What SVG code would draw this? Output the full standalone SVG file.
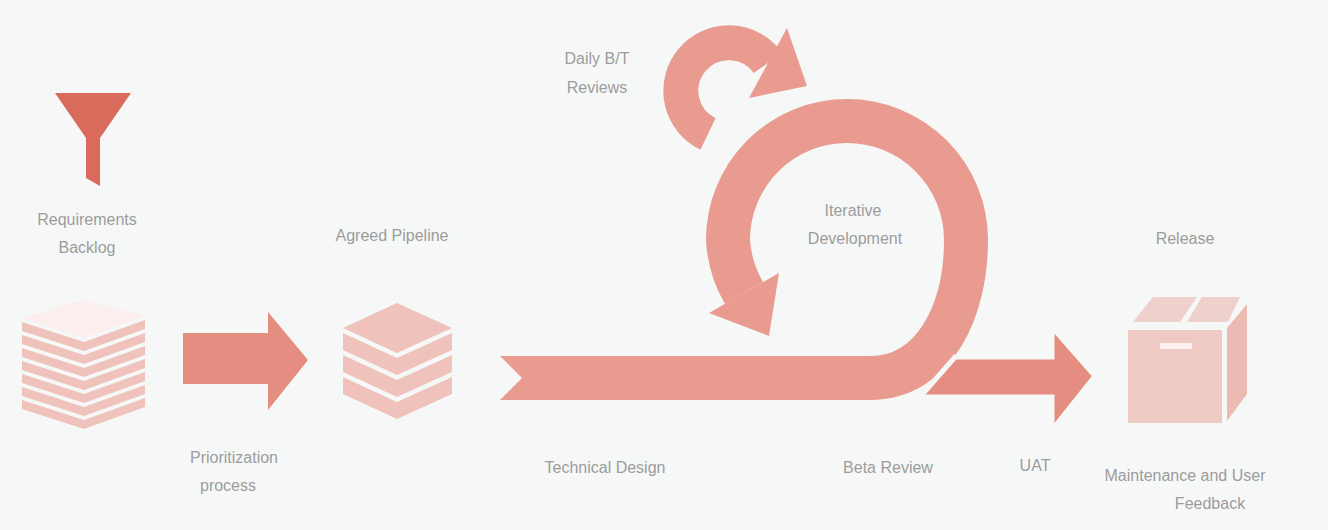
<svg xmlns="http://www.w3.org/2000/svg" width="1328" height="530" viewBox="0 0 1328 530">
<defs>
<style>
text{font-family:"Liberation Sans",Arial,sans-serif;font-size:16px;fill:#9c9c9c;text-anchor:middle}
.rib{fill:none;stroke:#e99b90;stroke-width:44}
.arr{fill:#e48d80}
.stk{fill:#efc3bc}
.top{fill:#fbeeec}
</style>
</defs>
<rect width="1328" height="530" fill="#f6f8f7"/>
<g id="funnel"><path d="M55,93 H131 L100,138 V186 L86,178 V138 Z" fill="#d96a5c"/></g>
<g id="backlog">
<polygon class="top" points="22,318 82,300 145,316 84,338"/>
<polygon class="stk" points="22,322 84,342 145,320 145,329 84,351 22,331"/>
<polygon class="stk" points="22,335 84,355 145,333 145,342 84,364 22,344"/>
<polygon class="stk" points="22,348 84,368 145,346 145,355 84,377 22,357"/>
<polygon class="stk" points="22,361 84,381 145,359 145,368 84,390 22,370"/>
<polygon class="stk" points="22,374 84,394 145,372 145,381 84,403 22,383"/>
<polygon class="stk" points="22,387 84,407 145,385 145,394 84,416 22,396"/>
<polygon class="stk" points="22,400 84,420 145,398 145,407 84,429 22,409"/>
<text x="87" y="225">Requirements</text><text x="87" y="253">Backlog</text>
</g>
<g id="pipeline">
<polygon class="stk" points="343,328 397,303 452,328 397,353"/>
<polygon class="stk" points="343,333 397,358 452,333 452,350 397,375 343,350"/>
<polygon class="stk" points="343,355 397,380 452,355 452,372 397,397 343,372"/>
<polygon class="stk" points="343,377 397,402 452,377 452,394 397,419 343,394"/>
<text x="392" y="241">Agreed Pipeline</text>
</g>
<g id="connectors">
<path class="rib" d="M500,378 H870 C935,378 966,310 966,240 A119,119 0 0 0 728,240 A119,119 0 0 0 744,293"/>
<polygon fill="#e99b90" points="709,313 779,273 769,336"/>
<polygon fill="#f6f8f7" points="498,354 522,378 498,402"/>
<path fill="none" stroke="#f6f8f7" stroke-width="49" d="M708,134 A48,48 0 1 1 768,63"/>
<path class="rib" style="stroke-width:35" d="M708,134 A48,48 0 1 1 768,63"/>
<polygon fill="#e99b90" points="787,28 749,98 807,86"/>
<polygon class="arr" points="183,333 268,333 268,312 308,360 268,410 268,384 183,384"/>
<polygon class="arr" stroke="#f6f8f7" stroke-width="5" points="955,357 1052,357 1052,327 1095,376 1052,430 1052,397 920,397"/>
</g>
<g id="release">
<polygon fill="#efc9c4" points="1128,330 1222,330 1222,423 1128,423"/>
<polygon fill="#ebbab3" points="1227,328 1247,304 1247,394 1227,421"/>
<polygon fill="#eed0cc" points="1133,322 1153,297 1197,297 1180,322"/>
<polygon fill="#eed0cc" points="1187,322 1202,297 1240,297 1228,322"/>
<rect x="1160" y="343" width="32" height="6" fill="#faf0ee"/>
<text x="1185" y="244">Release</text>
<text x="1185" y="481">Maintenance and User</text><text x="1210" y="509">Feedback</text>
</g>
<g id="labels">
<text x="597" y="64">Daily B/T</text><text x="597" y="93">Reviews</text>
<text x="853" y="216">Iterative</text><text x="855" y="244">Development</text>
<text x="234" y="463">Prioritization</text><text x="228" y="491">process</text>
<text x="605" y="473">Technical Design</text>
<text x="888" y="473">Beta Review</text>
<text x="1035" y="471">UAT</text>
</g>
</svg>
